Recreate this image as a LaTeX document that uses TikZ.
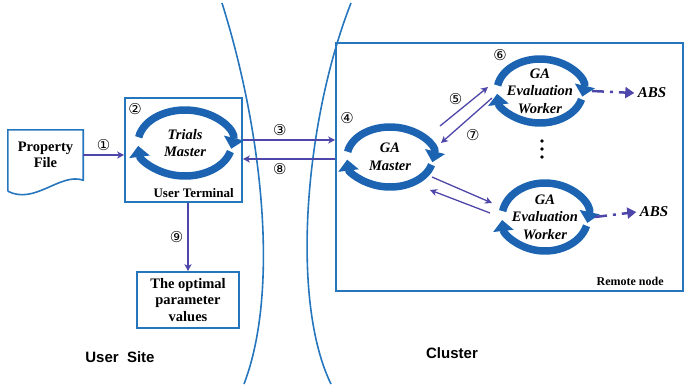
\documentclass[tikz,border=0pt]{standalone}
\usepackage{fontspec}
\setmainfont{Liberation Serif}
\setsansfont{Liberation Sans}
\newfontfamily\circfont{DejaVu Sans}
\usepackage{tikz}
\usetikzlibrary{arrows.meta}
\definecolor{boxblue}{RGB}{38,118,190}
\definecolor{cycblue}{RGB}{28,100,178}
\definecolor{flowpurple}{RGB}{78,70,168}

\begin{document}
\begin{tikzpicture}[x=1pt,y=1pt,
    box/.style={draw=boxblue,line width=1.6pt},
    flow/.style={draw=flowpurple,line width=1.3pt,-{Stealth[length=7pt,width=7pt,inset=2pt]}},
    cyc/.style={draw=cycblue,line width=7.5pt,-{Triangle[length=11pt,width=20pt]}},
    cyctext/.style={font=\fontsize{14.5}{17.5}\selectfont\bfseries\itshape,align=center},
    txt/.style={font=\fontsize{14.5}{16.5}\selectfont\bfseries,align=center},
    num/.style={font=\circfont\fontsize{15}{15}\selectfont,inner sep=1pt},
    site/.style={font=\sffamily\fontsize{15}{15}\selectfont\bfseries}]
    \useasboundingbox (0,0) rectangle (686,-384);

    % the two borders between the sites
    \draw[boxblue,line width=1.6pt] (222,-3) .. controls (262,-130) and (280,-290) .. (244,-384);
    \draw[boxblue,line width=1.6pt] (351,-3) .. controls (305,-120) and (290,-300) .. (331,-384);

    % user site
    \node[txt,minimum width=75,minimum height=50] (pf) at (45.5,-155) {Property\\File};
    \draw[box] ([yshift=-11]pf.south west) -- (pf.north west) -- (pf.north east) -- (pf.south east)
        .. controls +(-23,8) and +(27,-14) .. ([yshift=-11]pf.south west);
    \node[box,minimum width=117,minimum height=104] (ut) at (183.5,-150) {};
    \node[font=\fontsize{13}{13}\selectfont\bfseries,anchor=base east,inner sep=0] (utl)
        at ([xshift=-9,yshift=5]ut.south east) {User Terminal};
    \node[cyctext] (tm) at (185,-143) {Trials\\Master};
    \node[num] (n2) at ([shift={(-50,34)}]tm.center) {②};
    \node[txt,box,minimum width=102,minimum height=56,inner sep=1pt,
        font=\fontsize{14.5}{16.5}\selectfont\bfseries] (ov) at (188,-300) {The optimal\\parameter\\values};

    % cluster
    \node[box,minimum width=347,minimum height=248] (rn) at (509.5,-167) {};
    \node[font=\fontsize{12}{12}\selectfont\bfseries,anchor=base east,inner sep=0] (rnl)
        at ([xshift=-20,yshift=6]rn.south east) {Remote node};
    \node[cyctext] (gam) at (390,-157) {GA\\Master};
    \node[num] (n4) at ([shift={(-43,39)}]gam.center) {④};
    \node[cyctext] (w1) at (540,-91) {GA\\Evaluation\\Worker};
    \node[num] (n6) at ([shift={(-40,36)}]w1.center) {⑥};
    \node[cyctext] (w2) at (545,-217) {GA\\Evaluation\\Worker};
    \node[cyctext,font=\fontsize{15}{15}\selectfont\bfseries\itshape] (abs1) at (652,-93) {ABS};
    \node[cyctext,font=\fontsize{15}{15}\selectfont\bfseries\itshape] (abs2) at (654,-212) {ABS};
    \foreach \y in {141,149,157}
        \fill (542,-\y) circle (1.9);

    % the turning arrows
    \foreach \c/\rx/\ry in {tm/47/33,gam/43/30,w1/43/32,w2/43/34}{
        \draw[cyc] (\c.center) ++(170:\rx pt and \ry pt) arc[start angle=170,end angle=-10,x radius=\rx,y radius=\ry];
        \draw[cyc] (\c.center) ++(-15:\rx pt and \ry pt) arc[start angle=-15,end angle=-175,x radius=\rx,y radius=\ry];
    }

    % messages
    \draw[flow] (pf.east) -- node[num,above=3pt]{①} (pf.east -| ut.west);
    \draw[flow] ([yshift=10]ut.east) -- node[num,pos=.4,above=3pt]{③} ([yshift=10]ut.east -| rn.west);
    \draw[flow] ([yshift=-9]ut.east -| rn.west) -- node[num,pos=.6,below=3pt]{⑧} ([yshift=-9]ut.east);
    \draw[flow] (ov.north |- ut.south) -- node[num,left=3pt]{⑨} (ov.north);
    \draw[flow] ([shift={(50,31)}]gam.center) -- node[num,midway,anchor=south east,inner sep=1pt]{⑤} ([shift={(-52,4)}]w1.center);
    \draw[flow] ([shift={(-48,-7)}]w1.center) -- node[num,pos=.6,anchor=north west,inner sep=4pt]{⑦} ([shift={(51,14)}]gam.center);
    \draw[flow] ([shift={(42,-20)}]gam.center) -- ([shift={(-53,14)}]w2.center);
    \draw[flow] ([shift={(-55,4)}]w2.center) -- ([shift={(40,-33)}]gam.center);
    \draw[flowpurple,line width=2.5pt,dash pattern=on 12pt off 6pt on 3pt off 6pt,-{Triangle[length=9pt,width=11pt]}]
        ([xshift=52]w1.center) -- (abs1.west);
    \draw[flowpurple,line width=2.5pt,dash pattern=on 12pt off 6pt on 3pt off 6pt,-{Triangle[length=9pt,width=11pt]}]
        ([xshift=50]w2.center) -- (abs2.west);

    \node[site] (us) at (120,-357) {User\ \ Site};
    \node[site] (cl) at (452,-353) {Cluster};
\end{tikzpicture}
\end{document}
